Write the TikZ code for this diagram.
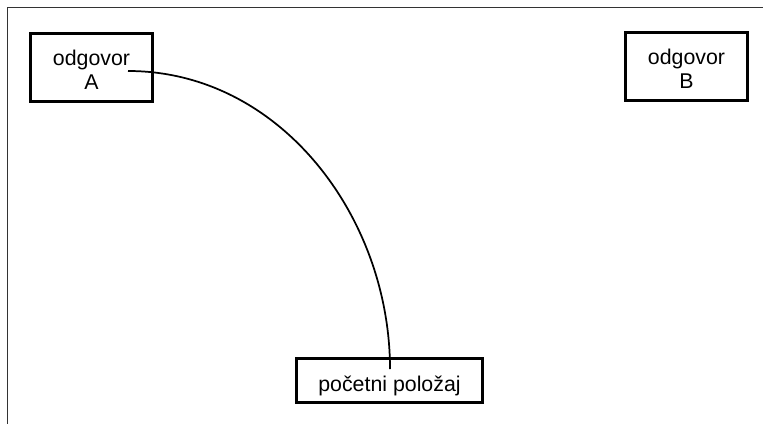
\documentclass[tikz,border=0pt]{standalone}
\usepackage{fontspec}
\setmainfont{Liberation Sans}
\usepackage{tikz}
\usetikzlibrary{calc}

\begin{document}
\begin{tikzpicture}[x=0.75pt, y=-0.75pt,
    boxtext/.style={font=\fontsize{16}{18}\selectfont, align=center, inner sep=0pt},
    answerbox/.style={boxtext, draw, line width=1.6pt, minimum width=91.5pt, minimum height=51pt, text height=32.7pt, text depth=0pt},
    startbox/.style={boxtext, draw, line width=1.6pt, minimum width=139.5pt, minimum height=33pt, text height=16.8pt, text depth=0pt},
    path/.style={line width=1.3pt}]
    % Page size
    \useasboundingbox (0,0) rectangle (763,424);
    \clip (0,0) rectangle (763,424);
    % Frame
    \draw[black!80, line width=0.9pt] (7.5,7.5) rectangle (800,460);
    % Answers
    \node[answerbox] (odgA) at (91.5,67.5) {odgovor\\A};
    \node[answerbox] (odgB) at (686.5,66.5) {odgovor\\B};
    % Start position
    \node[startbox] (start) at (389.5,380.5) {početni položaj};
    % Path of the move
    \coordinate (armA) at ($(odgA.center)+(36.5,3.5)$);
    \coordinate (armS) at ($(start.center)+(0.5,-11.5)$);
    \draw[path] (armA) .. controls +(152,0) and +(0,-152) .. (armS);
\end{tikzpicture}
\end{document}
